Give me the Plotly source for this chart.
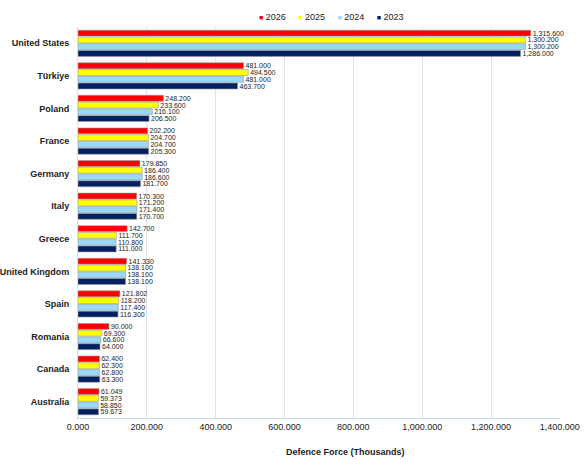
import plotly.graph_objects as go

countries = ["United States", "Türkiye", "Poland", "France", "Germany", "Italy",
             "Greece", "United Kingdom", "Spain", "Romania", "Canada", "Australia"]

y2026 = [1315.6, 481.0, 248.2, 202.2, 179.85, 170.3, 142.7, 141.33, 121.802, 90.0, 62.4, 61.049]
y2025 = [1300.2, 494.5, 233.6, 204.7, 186.4, 171.2, 111.7, 138.1, 118.2, 69.3, 62.3, 59.373]
y2024 = [1300.2, 481.0, 216.1, 204.7, 186.6, 171.4, 110.8, 138.1, 117.4, 66.6, 62.8, 58.85]
y2023 = [1286.0, 463.7, 206.5, 205.3, 181.7, 170.7, 111.0, 138.1, 116.3, 64.0, 63.3, 59.673]

series = [("2026", y2026, "#ff0000"),
          ("2025", y2025, "#ffff00"),
          ("2024", y2024, "#99d9f7"),
          ("2023", y2023, "#002060")]

fig = go.Figure()
for name, vals, col in series:
    fig.add_trace(go.Bar(
        y=countries, x=vals, name=name, orientation="h",
        marker=dict(color=col, line=dict(color="#9a9a9a", width=0.6)),
        text=vals, texttemplate="&nbsp;%{x:,.3f}", textposition="outside",
        constraintext="none",
        textfont=dict(size=7, color="#222222"), cliponaxis=False,
    ))

# compact legend like the original (small squares right before the year)
gap = "&nbsp;" * 5
legend_txt = gap.join("<span style='color:%s;font-size:7px'>■</span>&nbsp;%s" % (c, n)
                      for n, v, c in series)

L, R, T, B = 78, 560, 27, 418   # plot area in page pixels
pw, ph = R - L, B - T

fig.update_layout(
    width=584, height=476,
    margin=dict(l=L, r=584 - R, t=T, b=476 - B),
    paper_bgcolor="white", plot_bgcolor="white",
    font=dict(family="Arial, Liberation Sans, sans-serif", color="#222222"),
    barmode="group", bargap=0.17, bargroupgap=0.12,
    showlegend=False,
    xaxis=dict(range=[0, 1400.5], dtick=200, tickformat=",.3f",
               showgrid=True, gridcolor="#dde3ea", gridwidth=1,
               showline=True, linecolor="#c8dbe6", ticks="",
               tickfont=dict(size=9), zeroline=False, automargin=False,
               ticklabeloverflow="allow"),
    yaxis=dict(autorange="reversed", showline=True, linecolor="#dddddd",
               tickfont=dict(size=9, weight="bold"),
               ticks="", ticklabelstandoff=6, automargin=False),
    annotations=[
        dict(text="<b>Defence Force (Thousands)</b>", x=(345 - L) / pw,
             y=-(452 - B) / ph, xref="paper", yref="paper", xanchor="center",
             yanchor="middle", showarrow=False, font=dict(size=9)),
        dict(text=legend_txt, x=(331 - L) / pw, y=1 + (T - 17) / ph,
             xref="paper", yref="paper", xanchor="center", yanchor="middle",
             showarrow=False, font=dict(size=9)),
    ],
)

# the page has a default 8px body margin; drop it so the figure fills the window
fig.write_html("out.html", config={"displayModeBar": False},
               post_script="document.body.style.margin='0';")
